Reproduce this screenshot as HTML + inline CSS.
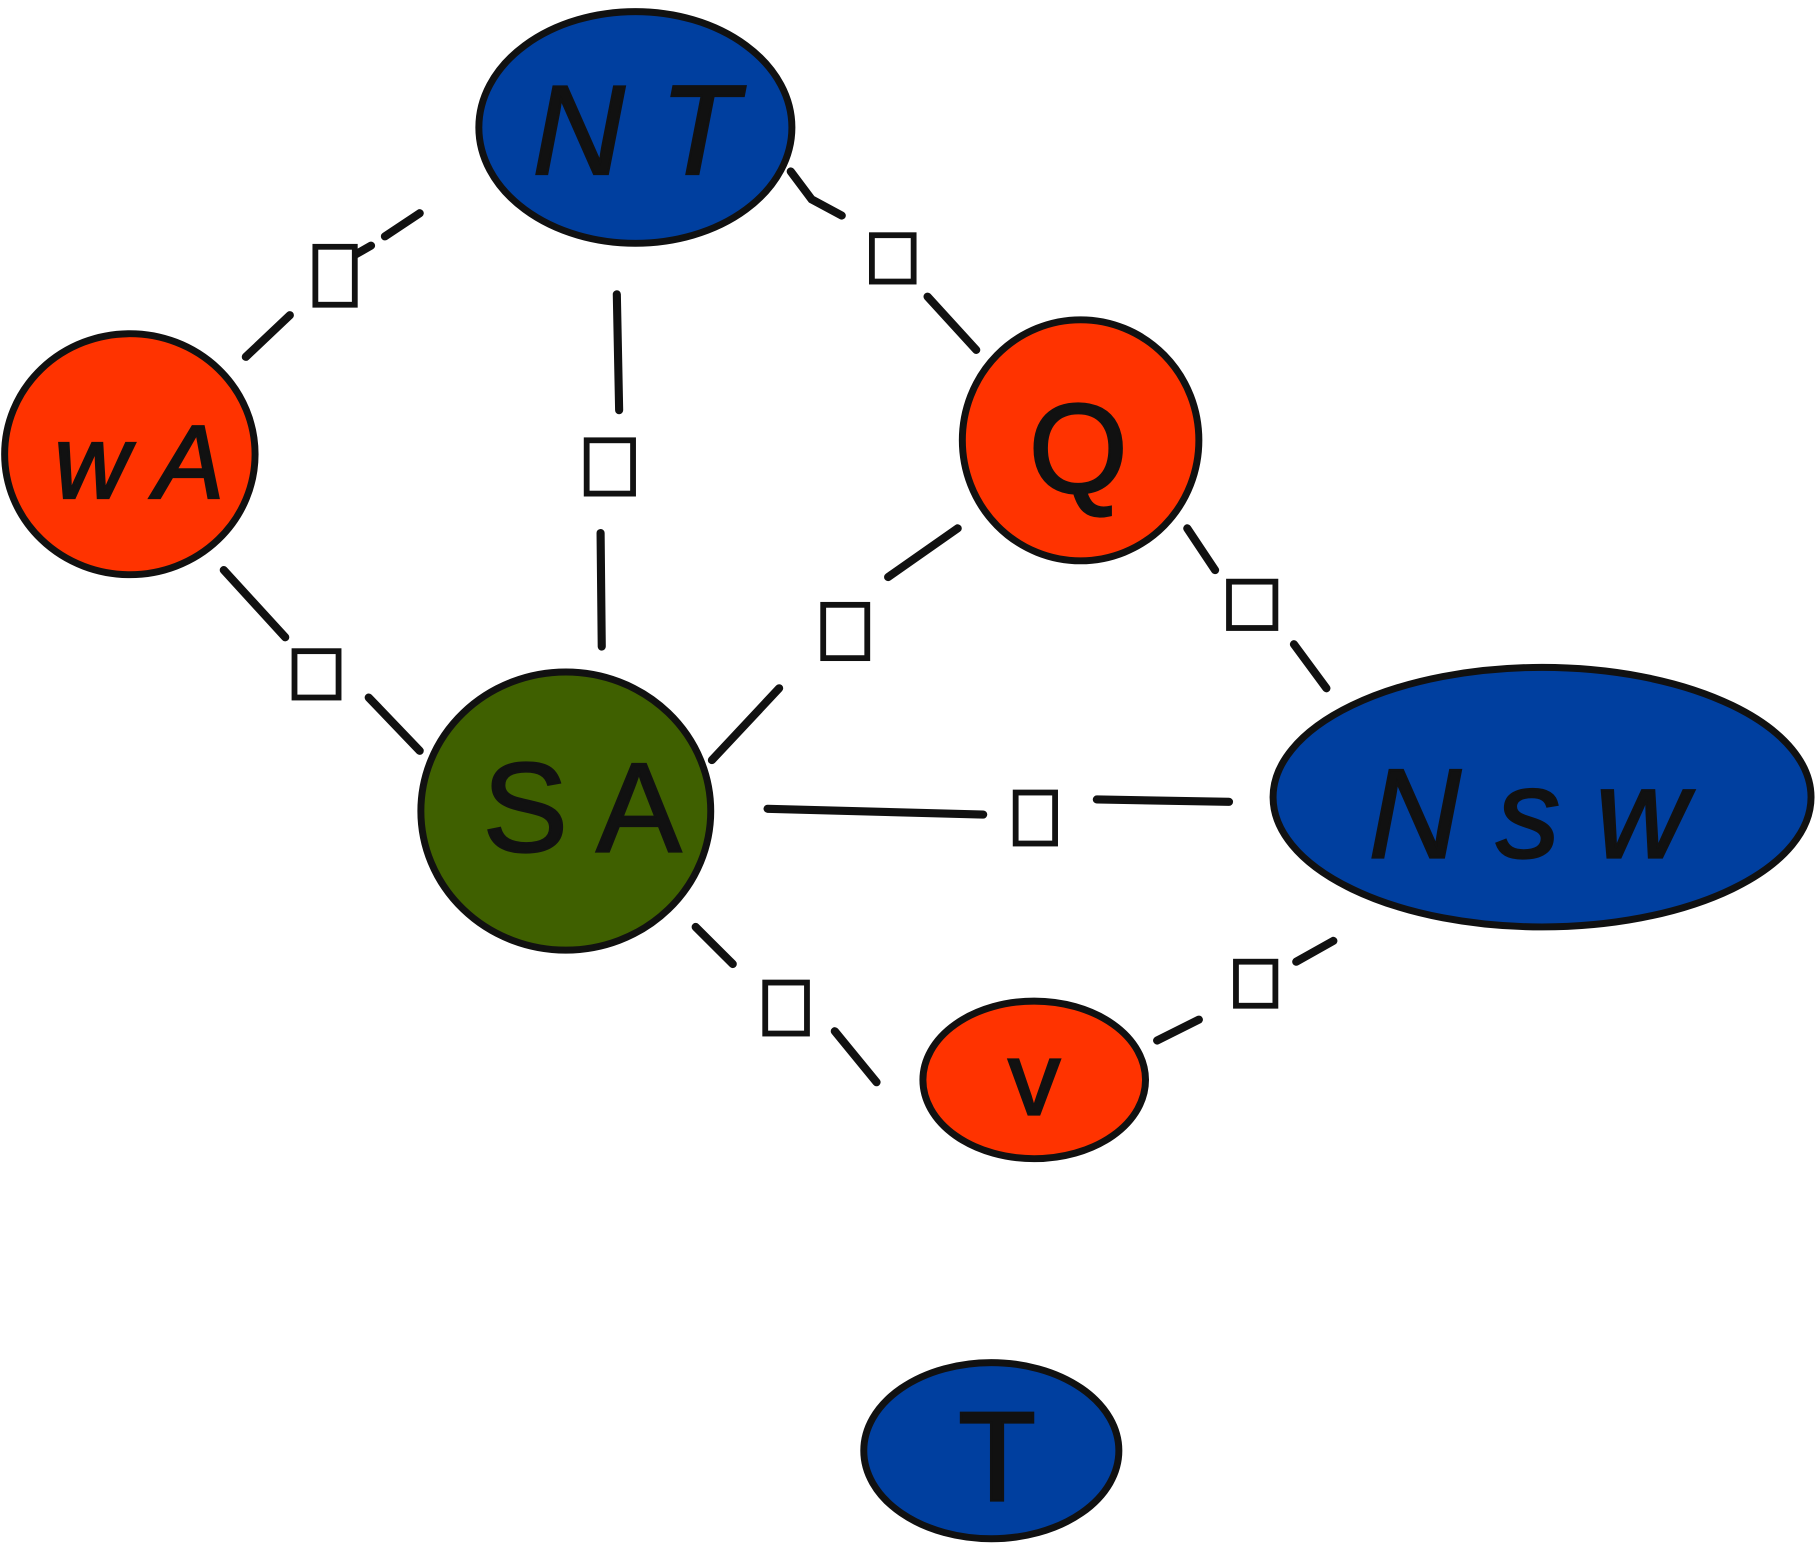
<!DOCTYPE html>
<html><head><style>html,body{margin:0;padding:0;background:#fff;}svg{display:block}</style></head>
<body>
<svg width="1818" height="1548" viewBox="0 0 1568 1336" preserveAspectRatio="none" xmlns="http://www.w3.org/2000/svg">
<g fill="none" stroke="#111" stroke-width="7" stroke-linecap="round">
<path d="M362 184 L332 204 M320 212 L306 220 M250 272 L212 308"/>
<path d="M682 148 L700 172 L726 186 M800 256 L842 302"/>
<path d="M532 254 L534 354 M518 460 L519 558"/>
<path d="M193 492 L246 550 M318 602 L362 648"/>
<path d="M826 456 L766 498 M672 594 L614 656"/>
<path d="M1024 456 L1048 492 M1116 556 L1144 594"/>
<path d="M662 698 L848 703 M946 690 L1060 692"/>
<path d="M600 800 L632 832 M720 890 L756 934"/>
<path d="M1150 812 L1118 830 M1034 880 L998 898"/>
</g>
<g fill="#fff" stroke="#111" stroke-width="5">
<rect x="272" y="213" width="34" height="50"/>
<rect x="752" y="203" width="36" height="40"/>
<rect x="506" y="380" width="40" height="46"/>
<rect x="254" y="562" width="38" height="40"/>
<rect x="710" y="522" width="38" height="46"/>
<rect x="1060" y="502" width="40" height="40"/>
<rect x="876" y="684" width="34" height="44"/>
<rect x="660" y="848" width="36" height="44"/>
<rect x="1066" y="830" width="34" height="38"/>
</g>
<g stroke="#111" stroke-width="6">
<ellipse cx="548" cy="110" rx="135" ry="100" fill="#003f9f"/>
<ellipse cx="112" cy="392" rx="108" ry="104" fill="#ff3300"/>
<ellipse cx="932" cy="380" rx="102" ry="104" fill="#ff3300"/>
<ellipse cx="488" cy="700" rx="125" ry="120" fill="#3f6000"/>
<ellipse cx="1330" cy="688" rx="232" ry="112" fill="#003f9f"/>
<ellipse cx="892" cy="932" rx="96" ry="68" fill="#ff3300"/>
<ellipse cx="855" cy="1252" rx="110" ry="76" fill="#003f9f"/>
</g>
<g font-family="Liberation Sans, sans-serif" font-style="italic" fill="#111" text-anchor="middle" stroke="#111" stroke-width="2">
<text x="548" y="150" font-size="110">N T</text>
<text x="120" y="430" font-size="90">w A</text>
<text x="930" y="425" font-size="110" font-style="normal">Q</text>
<text x="502" y="735" font-size="110" font-style="normal">S A</text>
<text x="1318" y="740" font-size="110">N s w</text>
<text x="892" y="962" font-size="90" font-style="normal">v</text>
<text x="860" y="1295" font-size="110" font-style="normal">T</text>
</g>
</svg>
</body></html>
